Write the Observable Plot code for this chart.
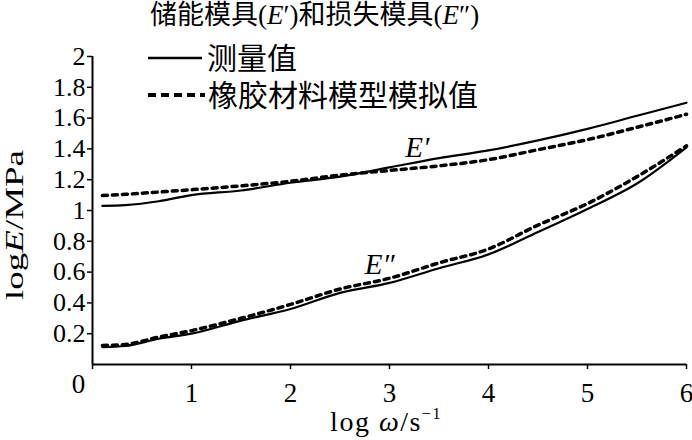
<!DOCTYPE html>
<html>
<head>
<meta charset="utf-8">
<script src="https://cdn.jsdelivr.net/npm/d3@7"></script>
<script src="https://cdn.jsdelivr.net/npm/@observablehq/plot@0.6"></script>
<style>
  html, body { margin: 0; padding: 0; background: #fff; }
  #chart { width: 692px; height: 440px; }
</style>
</head>
<body>
<div id="chart"></div>
<script>
// log ω (s^-1) sample positions
const logOmega = [0.1, 0.33, 0.67, 1, 1.5, 2, 2.5, 3, 3.5, 4, 4.5, 5, 5.5, 6];
// storage modulus E' (log E / MPa)
const storageMeasured = [1.03, 1.035, 1.06, 1.10, 1.13, 1.18, 1.22, 1.28, 1.34, 1.39, 1.455, 1.53, 1.615, 1.70];
const storageModel    = [1.097, 1.105, 1.12, 1.135, 1.16, 1.19, 1.23, 1.26, 1.29, 1.33, 1.395, 1.46, 1.54, 1.625];
// loss modulus E''
const lossMeasured = [0.113, 0.12, 0.167, 0.20, 0.285, 0.36, 0.465, 0.53, 0.625, 0.715, 0.86, 1.01, 1.175, 1.41];
const lossModel    = [0.124, 0.13, 0.178, 0.22, 0.30, 0.39, 0.49, 0.56, 0.66, 0.75, 0.905, 1.045, 1.22, 1.42];

const xTicks = [0, 1, 2, 3, 4, 5, 6];
const yTicks = [0.2, 0.4, 0.6, 0.8, 1, 1.2, 1.4, 1.6, 1.8, 2];

const annotationText = ["E\u2032", "E\u2033"];
const annotationX = [3.28, 2.90];
const annotationY = [1.41, 0.645];

const titleText = ["储能模具(", "E", "\u2032)和损失模具(", "E", "\u2033)"];
const legendLabels = ["测量值", "橡胶材料模型模拟值"];

function rows(ys) { return logOmega.map((x, i) => ({x, y: ys[i]})); }

const annotations = annotationText.map((t, i) => ({t, x: annotationX[i], y: annotationY[i]}));

const serif = "'Liberation Serif', 'Noto Sans CJK SC', serif";

const chart = Plot.plot({
  width: 692,
  height: 440,
  marginLeft: 92,
  marginRight: 6,
  marginTop: 56,
  marginBottom: 76,
  style: {fontFamily: serif, background: "white", color: "black", overflow: "visible"},
  x: {domain: [0, 6]},
  y: {domain: [0, 2]},
  marks: [
    Plot.axisY({ticks: yTicks, tickSize: 5, tickPadding: 2, fontSize: 26, strokeWidth: 1.5,
      tickFormat: d => String(d), label: null}),
    Plot.axisX({ticks: xTicks, tickSize: 5, tickPadding: 13, fontSize: 27, strokeWidth: 1.5,
      tickFormat: d => d === 0 ? "" : String(d), label: null}),
    Plot.text([0], {x: d => d, y: d => d, text: d => String(d), dx: -14, dy: 9,
      lineAnchor: "top", fontSize: 27}),
    Plot.ruleX([0], {stroke: "black", strokeWidth: 2}),
    Plot.ruleY([0], {stroke: "black", strokeWidth: 2}),
    Plot.line(rows(storageMeasured), {x: "x", y: "y", stroke: "black", strokeWidth: 2.2, curve: "monotone-x"}),
    Plot.line(rows(lossMeasured), {x: "x", y: "y", stroke: "black", strokeWidth: 2.2, curve: "monotone-x"}),
    Plot.line(rows(storageModel), {x: "x", y: "y", stroke: "black", strokeWidth: 3.5, strokeDasharray: "5,5", curve: "monotone-x"}),
    Plot.line(rows(lossModel), {x: "x", y: "y", stroke: "black", strokeWidth: 3.5, strokeDasharray: "5,5", curve: "monotone-x"}),
    Plot.text(annotations, {x: "x", y: "y", text: "t", fontSize: 29, fontStyle: "italic", textAnchor: "middle", lineAnchor: "middle"})
  ]
});

document.getElementById("chart").appendChild(chart);

const svg = d3.select(chart);

// Title
const title = svg.append("text")
  .attr("x", 150).attr("y", 15)
  .attr("text-anchor", "start")
  .attr("dominant-baseline", "central")
  .attr("font-size", 27)
  .attr("font-family", serif)
  .attr("fill", "black");
titleText.forEach(t => {
  title.append("tspan").text(t).attr("font-style", t === "E" ? "italic" : null);
});

// Legend
const lg = svg.append("g").attr("text-anchor", "start");
lg.append("line").attr("x1", 148).attr("x2", 202).attr("y1", 58).attr("y2", 58)
  .attr("stroke", "black").attr("stroke-width", 2.5);
lg.append("text").attr("x", 207).attr("y", 58).attr("dominant-baseline", "central")
  .attr("text-anchor", "start")
  .attr("font-size", 30).attr("font-family", serif).text(legendLabels[0]);
lg.append("line").attr("x1", 148).attr("x2", 205).attr("y1", 95).attr("y2", 95)
  .attr("stroke", "black").attr("stroke-width", 4).attr("stroke-dasharray", "8,5");
lg.append("text").attr("x", 208).attr("y", 95).attr("dominant-baseline", "central")
  .attr("text-anchor", "start")
  .attr("font-size", 30).attr("font-family", serif).text(legendLabels[1]);

// Y axis label
const yl = svg.append("text")
  .attr("transform", "translate(23,225) rotate(-90)")
  .attr("text-anchor", "middle")
  .attr("font-size", 26)
  .attr("font-family", serif)
  .attr("textLength", 150)
  .attr("lengthAdjust", "spacingAndGlyphs");
yl.append("tspan").text("log");
yl.append("tspan").text("E").attr("font-style", "italic");
yl.append("tspan").text("/MPa");

// X axis label
const xl = svg.append("text")
  .attr("x", 386).attr("y", 431)
  .attr("text-anchor", "middle")
  .attr("font-size", 28)
  .attr("letter-spacing", 1.5)
  .attr("font-family", serif);
xl.append("tspan").text("log ");
xl.append("tspan").text("ω").attr("font-style", "italic");
xl.append("tspan").text("/s");
xl.append("tspan").text("−1").attr("font-size", 16).attr("dy", -12);
</script>
</body>
</html>
